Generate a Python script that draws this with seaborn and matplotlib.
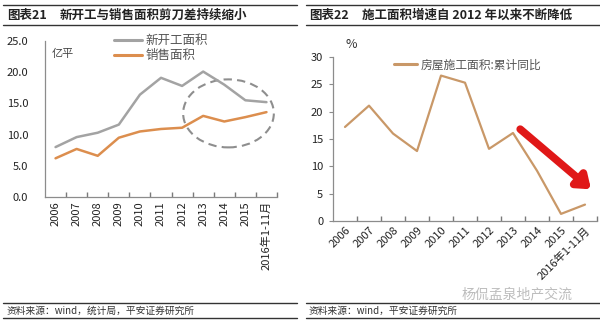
import matplotlib
matplotlib.use("Agg")
import matplotlib.pyplot as plt
import seaborn as sns
import pandas as pd
from matplotlib.lines import Line2D
from matplotlib.patches import Ellipse
import matplotlib.transforms as mtransforms

# ---- data ----
years = ["2006", "2007", "2008", "2009", "2010", "2011", "2012", "2013", "2014", "2015", "2016年1-11月"]
new_start = [8.0, 9.6, 10.3, 11.6, 16.4, 19.1, 17.8, 20.1, 18.0, 15.5, 15.2]
sales = [6.2, 7.7, 6.6, 9.5, 10.5, 10.9, 11.1, 13.0, 12.1, 12.8, 13.6]
construction_yoy = [17.2, 21.1, 16.0, 12.8, 26.6, 25.3, 13.2, 16.1, 9.2, 1.3, 3.0]
left_yticks = [0, 5, 10, 15, 20, 25]
right_yticks = [0, 5, 10, 15, 20, 25, 30]

sns.set_theme(style="ticks")
plt.rcParams['font.family'] = ['Noto Sans CJK SC', 'DejaVu Sans']

W, H = 600, 323
fig = plt.figure(figsize=(6.0, 3.23), dpi=100)
fig.patch.set_facecolor("white")

def fx(px):
    return px / W

def fy(py):
    return 1 - py / H

GRAY = "#A3A3A3"
ORANGE = "#DC8E4E"
BROWN = "#C99868"
SPINE = "#8C8C8C"

df_left = pd.DataFrame({"year": years * 2,
                        "value": new_start + sales,
                        "series": ["新开工面积"] * len(years) + ["销售面积"] * len(years)})
df_right = pd.DataFrame({"year": years, "value": construction_yoy,
                         "series": ["房屋施工面积:累计同比"] * len(years)})

def style_axis(ax, rotation, ha):
    for s in ["top", "right"]:
        ax.spines[s].set_visible(False)
    for s in ["left", "bottom"]:
        ax.spines[s].set_color(SPINE)
        ax.spines[s].set_linewidth(0.9)
    n = len(years)
    ax.set_xticks(range(n))
    if rotation == 45:
        ax.set_xticklabels(years, rotation=45, ha="right", rotation_mode="anchor",
                           fontsize=8, color="#222222")
    else:
        ax.set_xticklabels(years, rotation=90, ha="center", va="top",
                           fontsize=8, color="#222222")
    ax.tick_params(axis="x", length=0, pad=3)
    # category boundary tick marks
    trans = mtransforms.blended_transform_factory(ax.transData, ax.transAxes)
    ax.vlines([i + 0.5 for i in range(n)], 0, 0.03, transform=trans,
              colors="#7A7A7A", linewidth=1.0, clip_on=False)
    ax.set_xlabel("")
    ax.set_ylabel("")

# ---- left axes ----
ax1 = fig.add_axes([fx(45), fy(197), fx(232), (197 - 41) / H])
sns.lineplot(data=df_left, x="year", y="value", hue="series",
             palette=[GRAY, ORANGE], linewidth=1.8, ax=ax1, legend=False, sort=False)
ax1.set_ylim(0, 25)
ax1.set_xlim(-0.5, 10.5)
ax1.set_yticks(left_yticks)
ax1.set_yticklabels([f"{v:.1f}" for v in left_yticks], fontsize=8, color="#222222")
style_axis(ax1, 90, "center")
ax1.tick_params(axis="y", length=0, pad=12)
ax1.add_patch(Ellipse((8.2, 13.4), 4.3, 10.9, fill=False, edgecolor="#8E8E8E",
                      linestyle=(0, (4, 2.5)), linewidth=1.5, clip_on=False))
ax1.text(0.03, 0.95, "亿平", transform=ax1.transAxes, fontsize=8, color="#444444", va="top")

leg_handles = [Line2D([0], [0], color=GRAY, lw=2.2), Line2D([0], [0], color=ORANGE, lw=2.2)]
fig.legend(leg_handles, ["新开工面积", "销售面积"], loc="upper left",
           bbox_to_anchor=(fx(103), fy(23)), frameon=False, fontsize=9,
           handlelength=2.2, handletextpad=0.3, labelspacing=0.15, labelcolor="#555555")

# ---- right axes ----
ax2 = fig.add_axes([fx(333), fy(221), fx(264), (221 - 57) / H])
sns.lineplot(data=df_right, x="year", y="value", color=BROWN, linewidth=1.6,
             ax=ax2, legend=False, sort=False)
ax2.set_ylim(0, 30)
ax2.set_xlim(-0.5, 10.5)
ax2.set_yticks(right_yticks)
ax2.set_yticklabels([str(v) for v in right_yticks], fontsize=8, color="#222222")
style_axis(ax2, 45, "right")
ax2.tick_params(axis="y", direction="out", length=3, color=SPINE, width=0.8, pad=4, left=True)
ax2.annotate("", xy=(10.25, 5.8), xytext=(7.3, 16.8),
             arrowprops=dict(arrowstyle="-|>,head_length=0.6,head_width=0.45",
                             color="#E01818", lw=5.5, shrinkA=0, shrinkB=0),
             annotation_clip=False)
fig.text(fx(346), fy(45), "%", fontsize=9, color="#333333", va="center")
fig.legend([Line2D([0], [0], color=BROWN, lw=2.2)], ["房屋施工面积:累计同比"], loc="upper left",
           bbox_to_anchor=(fx(383), fy(48)), frameon=False, fontsize=8.5,
           handlelength=2.0, handletextpad=0.3, labelcolor="#555555")

# ---- titles and frame lines ----
def hline(x0, x1, y, lw, color="#333333"):
    fig.add_artist(Line2D([fx(x0), fx(x1)], [fy(y), fy(y)], color=color, lw=lw))

for (x0, x1) in [(3, 297), (306, 600)]:
    hline(x0, x1, 5, 1.0)
    hline(x0, x1, 25, 1.0)
    hline(x0, x1, 303, 1.0)
    hline(x0, x1, 318, 1.0)

fig.text(fx(7), fy(15), "图表21", fontsize=9, fontweight="bold", color="#222222", va="center")
fig.text(fx(60), fy(15), "新开工与销售面积剪刀差持续缩小", fontsize=9, fontweight="bold",
         color="#222222", va="center")
fig.text(fx(309), fy(15), "图表22", fontsize=9, fontweight="bold", color="#222222", va="center")
fig.text(fx(362), fy(15), "施工面积增速自 2012 年以来不断降低", fontsize=9, fontweight="bold",
         color="#222222", va="center")

fig.text(fx(7), fy(310.5), "资料来源：wind，统计局，平安证券研究所", fontsize=7,
         color="#333333", va="center", style="italic")
fig.text(fx(309), fy(310.5), "资料来源：wind，平安证券研究所", fontsize=7,
         color="#333333", va="center", style="italic")
fig.text(fx(462), fy(294), "杨侃孟泉地产交流", fontsize=10, color="#BDBDBD", va="center")

fig.savefig("out.png", dpi=100, facecolor="white")
